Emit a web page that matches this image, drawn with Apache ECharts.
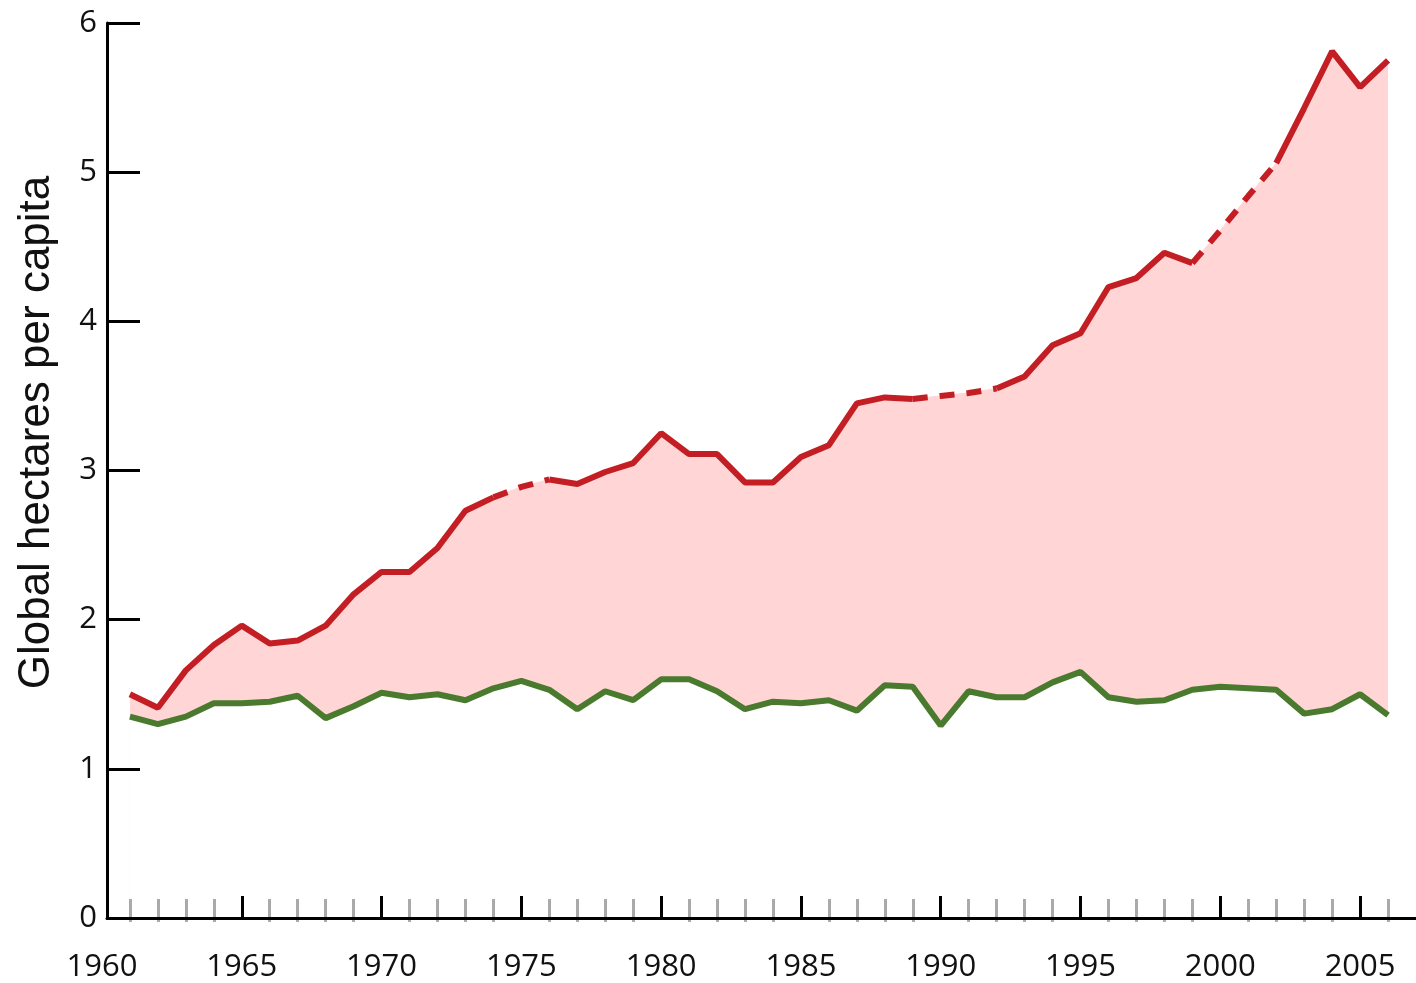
<!DOCTYPE html>
<html>
<head>
<meta charset="utf-8">
<title>Global hectares per capita</title>
<script src="https://cdn.jsdelivr.net/npm/echarts@6/dist/echarts.min.js"></script>
<style>
    html, body { margin: 0; padding: 0; background: #fff; }
    #chart { width: 1416px; height: 983px; }
</style>
</head>
<body>
<div id="chart"></div>
<script>
// years 1961 - 2006
var years = [1961, 1962, 1963, 1964, 1965, 1966, 1967, 1968, 1969, 1970,
    1971, 1972, 1973, 1974, 1975, 1976, 1977, 1978, 1979, 1980,
    1981, 1982, 1983, 1984, 1985, 1986, 1987, 1988, 1989, 1990,
    1991, 1992, 1993, 1994, 1995, 1996, 1997, 1998, 1999, 2000,
    2001, 2002, 2003, 2004, 2005, 2006];

// red line (upper)
var redValues = [1.50, 1.41, 1.66, 1.83, 1.96, 1.84, 1.86, 1.96, 2.17, 2.32,
    2.32, 2.48, 2.73, 2.82, 2.89, 2.94, 2.91, 2.99, 3.05, 3.25,
    3.11, 3.11, 2.92, 2.92, 3.09, 3.17, 3.45, 3.49, 3.48, 3.50,
    3.52, 3.55, 3.63, 3.84, 3.92, 4.23, 4.29, 4.46, 4.39, 4.61,
    4.84, 5.06, 5.43, 5.81, 5.57, 5.75];

// green line (lower)
var greenValues = [1.35, 1.30, 1.35, 1.44, 1.44, 1.45, 1.49, 1.34, 1.42, 1.51,
    1.48, 1.50, 1.46, 1.54, 1.59, 1.53, 1.40, 1.52, 1.46, 1.60,
    1.60, 1.52, 1.40, 1.45, 1.44, 1.46, 1.39, 1.56, 1.55, 1.29,
    1.52, 1.48, 1.48, 1.58, 1.65, 1.48, 1.45, 1.46, 1.53, 1.55,
    1.54, 1.53, 1.37, 1.40, 1.50, 1.36];

// parts of the red line drawn dashed [from, to]
var dashedRanges = [[1974, 1976], [1989, 1992], [1999, 2002]];

// tick labels
var xLabels = [1960, 1965, 1970, 1975, 1980, 1985, 1990, 1995, 2000, 2005];
var yTicks = [0, 1, 2, 3, 4, 5, 6];

function inDashed(year) {
    for (var i = 0; i < dashedRanges.length; i++) {
        if (year >= dashedRanges[i][0] && year <= dashedRanges[i][1]) return true;
    }
    return false;
}
function isRangeEnd(year) {
    for (var i = 0; i < dashedRanges.length; i++) {
        if (year === dashedRanges[i][0] || year === dashedRanges[i][1]) return true;
    }
    return false;
}

var redData = years.map(function (y, i) { return [y, redValues[i]]; });
var solidData = years.map(function (y, i) {
    // solid part keeps the end points of each dashed piece so they join
    return [y, (!inDashed(y) || isRangeEnd(y)) ? redValues[i] : null];
});
var dashedData = years.map(function (y, i) {
    return [y, inDashed(y) ? redValues[i] : null];
});
var greenData = years.map(function (y, i) { return [y, greenValues[i]]; });

// black ticks every 5 years after 1960, grey ticks on the other years
var majorTicks = xLabels.slice(1);
var minorTicks = years.filter(function (y) { return y % 5 !== 0; });

var tickFont = "'Open Sans', 'Noto Sans', sans-serif";
var red = "#c41e25";
var green = "#4a7a2d";
var pink = "#ffd5d6";

var myChart = echarts.init(document.getElementById("chart"));
var option = {
    animation: false,
    backgroundColor: "#fff",
    // grid 0 holds the data, starts at the y axis line
    // grid 1 only carries the year labels (1960 sits a little left of the y axis)
    grid: [
        { left: 107, right: -10, top: 23, bottom: 65 },
        { left: 102, right: -10, top: 23, bottom: 65 }
    ],
    xAxis: [{
        type: "value",
        gridIndex: 0,
        min: 1960.18,
        max: 2007,
        z: 10,
        axisLine: { lineStyle: { color: "#000", width: 3 } },
        axisTick: { show: true, inside: true, length: 22, customValues: majorTicks, lineStyle: { color: "#000", width: 3 } },
        axisLabel: { show: false },
        splitLine: { show: false }
    }, {
        // yearly grey ticks crossing the axis line
        type: "value",
        gridIndex: 0,
        position: "bottom",
        offset: 4,
        min: 1960.18,
        max: 2007,
        z: 9,
        axisLine: { show: false },
        axisTick: { show: true, inside: true, length: 23, customValues: minorTicks, lineStyle: { color: "#aaa", width: 3 } },
        axisLabel: { show: false },
        splitLine: { show: false }
    }, {
        type: "value",
        gridIndex: 1,
        min: 1960,
        max: 2007,
        axisLine: { show: false },
        axisTick: { show: false },
        axisLabel: {
            customValues: xLabels,
            formatter: function (v) { return String(v); },
            margin: 34,
            color: "#111",
            fontFamily: tickFont,
            fontSize: 31
        },
        splitLine: { show: false }
    }],
    yAxis: [{
        type: "value",
        gridIndex: 0,
        min: yTicks[0],
        max: yTicks[yTicks.length - 1],
        interval: 1,
        z: 10,
        name: "Global hectares per capita",
        nameLocation: "middle",
        nameRotate: 90,
        nameGap: 48,
        nameTextStyle: {
            fontFamily: "'Liberation Sans', Arial, sans-serif",
            fontSize: 44,
            color: "#111",
            padding: [0, 0, 0, 76]
        },
        axisLine: { show: true, lineStyle: { color: "#000", width: 3 } },
        axisTick: { show: true, inside: true, length: 33, lineStyle: { color: "#000", width: 3 } },
        axisLabel: { margin: 10, color: "#111", fontFamily: tickFont, fontSize: 31 },
        splitLine: { show: false }
    }, {
        type: "value",
        gridIndex: 1,
        min: 0,
        max: 6,
        show: false
    }],
    series: [{
        // pink band: area under the red line ...
        name: "red area",
        type: "line",
        data: redData,
        symbol: "none",
        z: 1,
        lineStyle: { color: pink, width: 1 },
        areaStyle: { color: pink, opacity: 1, origin: "start" }
    }, {
        // ... cut off below the green line with white
        name: "green",
        type: "line",
        data: greenData,
        symbol: "none",
        z: 3,
        lineStyle: { color: green, width: 6 },
        areaStyle: { color: "#ffffff", opacity: 1, origin: "start" }
    }, {
        name: "red",
        type: "line",
        data: solidData,
        symbol: "none",
        z: 4,
        lineStyle: { color: red, width: 6 }
    }, {
        name: "red dashed",
        type: "line",
        data: dashedData,
        symbol: "none",
        z: 4,
        lineStyle: { color: red, width: 6, type: [15, 12] }
    }]
};
myChart.setOption(option);
</script>
</body>
</html>
